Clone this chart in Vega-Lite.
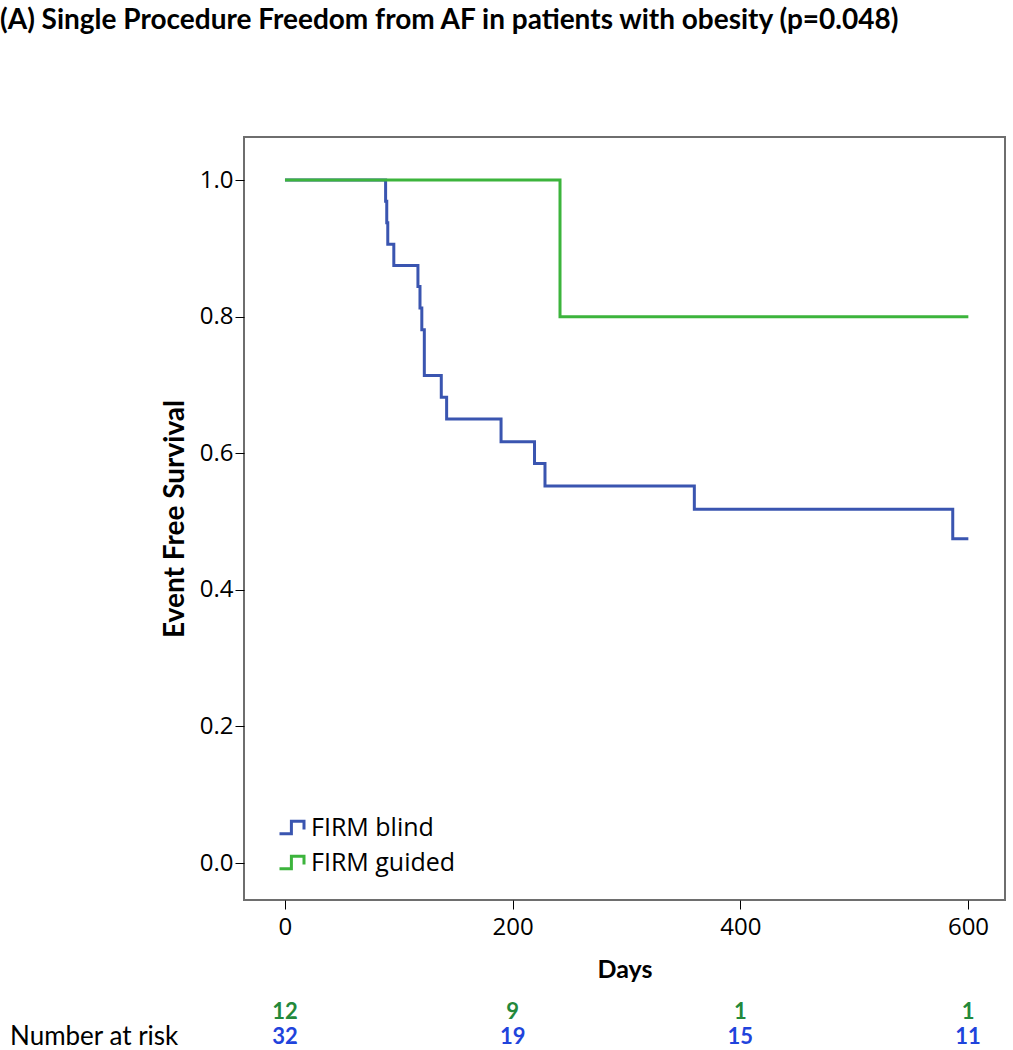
{
  "$schema": "https://vega.github.io/schema/vega-lite/v6.json",
  "autosize": {"type": "none"},
  "width": 761,
  "height": 763,
  "padding": {"left": 244, "top": 137, "right": 8, "bottom": 150},
  "background": "white",
  "title": {
    "text": "(A) Single Procedure Freedom from AF in patients with obesity (p=0.048)",
    "anchor": "start",
    "frame": "group",
    "dx": -244,
    "offset": 102,
    "font": "Lato",
    "fontSize": 28,
    "fontWeight": "bold",
    "color": "black"
  },
  "config": {
    "view": {"stroke": "#6e6e6e", "strokeWidth": 2},
    "axis": {
      "domain": false,
      "grid": false,
      "ticks": true,
      "tickColor": "black",
      "tickSize": 9,
      "tickWidth": 1,
      "labelFont": "Open Sans",
      "labelFontSize": 24,
      "labelColor": "black",
      "titleFont": "Lato",
      "titleFontSize": 25,
      "titleFontWeight": "bold",
      "titleColor": "black"
    }
  },
  "datasets": {
    "survival": [
      {"group": "FIRM blind", "day": 0, "S": 1.0},
      {"group": "FIRM blind", "day": 88.4, "S": 0.969},
      {"group": "FIRM blind", "day": 89.4, "S": 0.9375},
      {"group": "FIRM blind", "day": 90.3, "S": 0.906},
      {"group": "FIRM blind", "day": 95.6, "S": 0.875},
      {"group": "FIRM blind", "day": 116.8, "S": 0.844},
      {"group": "FIRM blind", "day": 118.6, "S": 0.8125},
      {"group": "FIRM blind", "day": 120.2, "S": 0.781},
      {"group": "FIRM blind", "day": 122.4, "S": 0.714},
      {"group": "FIRM blind", "day": 137.3, "S": 0.682},
      {"group": "FIRM blind", "day": 142.0, "S": 0.650},
      {"group": "FIRM blind", "day": 189.8, "S": 0.617},
      {"group": "FIRM blind", "day": 219.2, "S": 0.585},
      {"group": "FIRM blind", "day": 228.4, "S": 0.552},
      {"group": "FIRM blind", "day": 359.6, "S": 0.518},
      {"group": "FIRM blind", "day": 586.6, "S": 0.475},
      {"group": "FIRM blind", "day": 600.3, "S": 0.475},
      {"group": "FIRM guided", "day": 0, "S": 1.0},
      {"group": "FIRM guided", "day": 241.6, "S": 0.8},
      {"group": "FIRM guided", "day": 600.3, "S": 0.8}
    ],
    "risk": [
      {"group": "FIRM guided", "day": 0, "n": 12},
      {"group": "FIRM guided", "day": 200, "n": 9},
      {"group": "FIRM guided", "day": 400, "n": 1},
      {"group": "FIRM guided", "day": 600, "n": 1},
      {"group": "FIRM blind", "day": 0, "n": 32},
      {"group": "FIRM blind", "day": 200, "n": 19},
      {"group": "FIRM blind", "day": 400, "n": 15},
      {"group": "FIRM blind", "day": 600, "n": 11}
    ],
    "risklabel": [
      {"group": "FIRM blind", "label": "Number at risk"}
    ]
  },
  "layer": [
    {
      "data": {"name": "survival"},
      "mark": {"type": "line", "interpolate": "step-after", "strokeWidth": 3, "clip": false},
      "encoding": {
        "x": {
          "field": "day",
          "type": "quantitative",
          "scale": {"domain": [-36, 632.5], "nice": false, "zero": false},
          "axis": {"values": [0, 200, 400, 600], "title": "Days", "labelPadding": 6, "titlePadding": 18}
        },
        "y": {
          "field": "S",
          "type": "quantitative",
          "scale": {"domain": [-0.054, 1.063], "nice": false, "zero": false},
          "axis": {"values": [0, 0.2, 0.4, 0.6, 0.8, 1.0], "format": ".1f", "title": "Event Free Survival", "titleFontSize": 28, "labelPadding": 2, "titlePadding": 10}
        },
        "color": {
          "field": "group",
          "type": "nominal",
          "scale": {"domain": ["FIRM blind", "FIRM guided"], "range": ["#3a55b0", "#3cb43c"]},
          "legend": {
            "title": null,
            "orient": "none",
            "legendX": 34,
            "legendY": 675,
            "symbolType": "M-1,0.45H-0.15V-0.45H0.75V0.15",
            "symbolSize": 784,
            "symbolStrokeWidth": 3,
            "symbolFillColor": "transparent",
            "labelFont": "Open Sans",
            "labelFontSize": 25,
            "labelColor": "black",
            "labelOffset": 2,
            "rowPadding": 6
          }
        }
      }
    },
    {
      "data": {"name": "risk"},
      "mark": {"type": "text", "font": "Lato", "fontSize": 22, "fontWeight": "bold", "align": "center", "baseline": "middle", "clip": false},
      "encoding": {
        "x": {"field": "day", "type": "quantitative"},
        "y": {
          "field": "group",
          "type": "nominal",
          "scale": {"type": "point", "domain": ["FIRM guided", "FIRM blind"], "range": [875, 900], "padding": 0},
          "axis": null
        },
        "text": {"field": "n", "type": "quantitative"},
        "color": {
          "field": "group",
          "type": "nominal",
          "scale": {"domain": ["FIRM blind", "FIRM guided"], "range": ["#1f44dc", "#23893b"]},
          "legend": null
        }
      }
    },
    {
      "data": {"name": "risklabel"},
      "mark": {"type": "text", "font": "Lato", "fontSize": 26, "align": "left", "baseline": "middle", "color": "black", "clip": false},
      "encoding": {
        "x": {"datum": -241.5, "type": "quantitative"},
        "y": {
          "field": "group",
          "type": "nominal",
          "scale": {"type": "point", "domain": ["FIRM guided", "FIRM blind"], "range": [875, 900], "padding": 0},
          "axis": null
        },
        "text": {"field": "label", "type": "nominal"}
      }
    }
  ],
  "resolve": {"scale": {"y": "independent", "color": "independent"}}
}
